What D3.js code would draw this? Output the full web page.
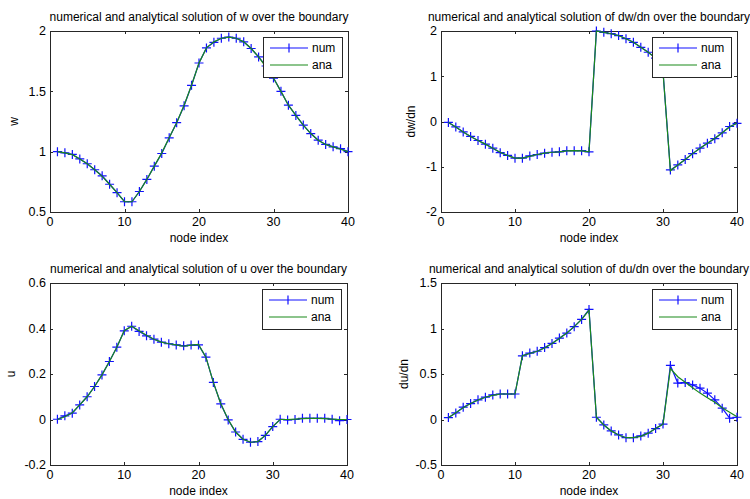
<!DOCTYPE html>
<html>
<head>
<meta charset="utf-8">
<script src="https://cdn.jsdelivr.net/npm/d3@7"></script>
<style>
body { margin: 0; background: #fff; }
text { font-family: "Liberation Sans", Arial, sans-serif; }
</style>
</head>
<body>
<svg width="750" height="499"></svg>
<script>
// node index (x values)
var nodeIndex = [1,2,3,4,5,6,7,8,9,10,11,12,13,14,15,16,17,18,19,20,
                 21,22,23,24,25,26,27,28,29,30,31,32,33,34,35,36,37,38,39,40];

// w
var wNum = [1.00,0.99,0.977,0.94,0.90,0.85,0.80,0.73,0.66,0.585,
            0.585,0.67,0.77,0.88,0.985,1.115,1.24,1.38,1.55,1.735,
            1.86,1.906,1.94,1.95,1.94,1.91,1.855,1.785,1.71,1.61,
            1.50,1.385,1.30,1.22,1.15,1.095,1.06,1.04,1.025,1.00];
var wAna = [1.00,0.99,0.975,0.94,0.90,0.85,0.795,0.73,0.66,0.585,
            0.585,0.67,0.77,0.88,0.99,1.115,1.24,1.385,1.55,1.735,
            1.86,1.91,1.94,1.95,1.94,1.91,1.855,1.785,1.70,1.61,
            1.50,1.385,1.30,1.22,1.15,1.095,1.06,1.04,1.02,1.00];

// dw/dn
var dwdnNum = [-0.02,-0.12,-0.23,-0.33,-0.42,-0.50,-0.59,-0.69,-0.75,-0.81,
               -0.81,-0.76,-0.73,-0.70,-0.68,-0.67,-0.645,-0.645,-0.645,-0.67,
               2.00,1.97,1.94,1.90,1.83,1.75,1.64,1.53,1.40,1.10,
               -1.07,-0.96,-0.84,-0.71,-0.59,-0.48,-0.38,-0.25,-0.11,-0.04];
var dwdnAna = [-0.02,-0.12,-0.23,-0.33,-0.42,-0.50,-0.59,-0.68,-0.75,-0.81,
               -0.81,-0.77,-0.73,-0.70,-0.68,-0.67,-0.65,-0.645,-0.65,-0.67,
               2.00,1.97,1.94,1.90,1.83,1.75,1.64,1.53,1.40,1.10,
               -1.09,-0.96,-0.84,-0.71,-0.59,-0.48,-0.37,-0.25,-0.12,-0.04];

// u
var uNum = [0.001,0.016,0.028,0.064,0.10,0.145,0.196,0.255,0.318,0.39,
            0.41,0.387,0.368,0.353,0.34,0.333,0.328,0.324,0.327,0.328,
            0.274,0.163,0.069,-0.002,-0.055,-0.087,-0.10,-0.097,-0.07,-0.031,
            0.001,-0.002,0.0,0.005,0.005,0.005,0.005,0.001,-0.005,0.0];
var uAna = [0.0,0.012,0.03,0.064,0.10,0.145,0.196,0.255,0.318,0.39,
            0.41,0.39,0.37,0.353,0.34,0.333,0.328,0.322,0.327,0.330,
            0.274,0.163,0.069,0.0,-0.055,-0.087,-0.10,-0.097,-0.07,-0.031,
            0.0,0.0,0.002,0.004,0.005,0.005,0.004,0.002,0.0,0.0];

// du/dn
var dudnNum = [0.021,0.072,0.135,0.175,0.216,0.245,0.27,0.28,0.28,0.28,
               0.70,0.73,0.75,0.79,0.836,0.895,0.95,1.02,1.10,1.21,
               0.025,-0.06,-0.125,-0.17,-0.20,-0.20,-0.18,-0.15,-0.10,-0.05,
               0.594,0.40,0.406,0.38,0.344,0.29,0.216,0.124,0.014,0.025];
var dudnAna = [0.02,0.075,0.13,0.175,0.215,0.245,0.265,0.28,0.28,0.28,
               0.70,0.725,0.75,0.785,0.835,0.89,0.95,1.02,1.10,1.20,
               0.025,-0.06,-0.125,-0.17,-0.20,-0.20,-0.185,-0.15,-0.10,-0.05,
               0.56,0.47,0.41,0.35,0.29,0.24,0.19,0.13,0.08,0.03];

// tick labels
var xTicks = [0,10,20,30,40];
var wTicks = [0.5,1,1.5,2];
var dwdnTicks = [-2,-1,0,1,2];
var uTicks = [-0.2,0,0.2,0.4,0.6];
var dudnTicks = [-0.5,0,0.5,1,1.5];

var svg = d3.select('svg');

var panels = [
  {left:50, top:31, right:348, bottom:212, ydom:[0.5,2], yticks:wTicks, ylab:'w', ylabX:18,
   title:'numerical and analytical solution of w over the boundary', num:wNum, ana:wAna},
  {left:441, top:31, right:737, bottom:212, ydom:[-2,2], yticks:dwdnTicks, ylab:'dw/dn', ylabX:415,
   title:'numerical and analytical solution of dw/dn over the boundary', num:dwdnNum, ana:dwdnAna},
  {left:50, top:283, right:347, bottom:465, ydom:[-0.2,0.6], yticks:uTicks, ylab:'u', ylabX:15,
   title:'numerical and analytical solution of u over the boundary', num:uNum, ana:uAna},
  {left:441, top:283, right:737, bottom:465, ydom:[-0.5,1.5], yticks:dudnTicks, ylab:'du/dn', ylabX:408,
   title:'numerical and analytical solution of du/dn over the boundary', num:dudnNum, ana:dudnAna}
];

var axisColor = '#262626';
var blue = '#1010ff';
var green = '#1a8a1a';

panels.forEach(function(p) {
  var xs = d3.scaleLinear().domain([0, 40]).range([p.left, p.right]);
  var ys = d3.scaleLinear().domain(p.ydom).range([p.bottom, p.top]);
  var g = svg.append('g');

  // box
  g.append('rect')
   .attr('x', p.left + 0.5).attr('y', p.top + 0.5)
   .attr('width', p.right - p.left).attr('height', p.bottom - p.top)
   .attr('fill', 'none').attr('stroke', axisColor).attr('stroke-width', 1);

  // inward ticks on all sides
  var tl = 3;
  xTicks.forEach(function(t) {
    var x = Math.round(xs(t)) + 0.5;
    g.append('line').attr('x1', x).attr('x2', x).attr('y1', p.bottom).attr('y2', p.bottom - tl).attr('stroke', axisColor);
    g.append('line').attr('x1', x).attr('x2', x).attr('y1', p.top).attr('y2', p.top + tl).attr('stroke', axisColor);
    g.append('text').attr('x', xs(t)).attr('y', p.bottom + 14)
     .attr('text-anchor', 'middle').attr('font-size', 12.5).attr('fill', '#000').text(t);
  });
  p.yticks.forEach(function(t) {
    var y = Math.round(ys(t)) + 0.5;
    g.append('line').attr('x1', p.left).attr('x2', p.left + tl).attr('y1', y).attr('y2', y).attr('stroke', axisColor);
    g.append('line').attr('x1', p.right).attr('x2', p.right - tl).attr('y1', y).attr('y2', y).attr('stroke', axisColor);
    g.append('text').attr('x', p.left - 4).attr('y', ys(t)).attr('dy', '0.35em')
     .attr('text-anchor', 'end').attr('font-size', 12.5).attr('fill', '#000').text(t);
  });

  // labels
  g.append('text').attr('x', (p.left + p.right) / 2).attr('y', p.top - 10)
   .attr('text-anchor', 'middle').attr('font-size', 12).text(p.title);
  g.append('text').attr('x', (p.left + p.right) / 2).attr('y', p.bottom + 30)
   .attr('text-anchor', 'middle').attr('font-size', 12).text('node index');
  g.append('text')
   .attr('transform', 'translate(' + p.ylabX + ',' + ((p.top + p.bottom) / 2) + ') rotate(-90)')
   .attr('text-anchor', 'middle').attr('font-size', 12).text(p.ylab);

  // num line + markers
  var line = d3.line().x(function(d, i) { return xs(nodeIndex[i]); }).y(function(d) { return ys(d); });
  g.append('path').datum(p.num).attr('d', line).attr('fill', 'none').attr('stroke', blue).attr('stroke-width', 1.2);
  g.selectAll('.mk').data(p.num).enter().append('path')
   .attr('d', function(d, i) {
     var x = xs(nodeIndex[i]), y = ys(d), s = 4.5;
     return 'M' + (x - s) + ',' + y + 'H' + (x + s) + 'M' + x + ',' + (y - s) + 'V' + (y + s);
   })
   .attr('stroke', blue).attr('stroke-width', 1.2).attr('fill', 'none');

  // ana line
  g.append('path').datum(p.ana).attr('d', line).attr('fill', 'none').attr('stroke', green).attr('stroke-width', 1.2);

  // legend
  var lw = 79, lh = 40;
  var lx = p.right - 6 - lw, ly = p.top + 6;
  var lg = g.append('g');
  lg.append('rect').attr('x', lx + 0.5).attr('y', ly + 0.5).attr('width', lw).attr('height', lh)
    .attr('fill', '#fff').attr('stroke', axisColor);
  var r1 = ly + 11, r2 = ly + 28;
  lg.append('line').attr('x1', lx + 7).attr('x2', lx + 45).attr('y1', r1).attr('y2', r1).attr('stroke', blue).attr('stroke-width', 1.2);
  lg.append('path').attr('d', 'M' + (lx + 26) + ',' + (r1 - 4.5) + 'V' + (r1 + 4.5)).attr('stroke', blue).attr('stroke-width', 1.2);
  lg.append('text').attr('x', lx + 49).attr('y', r1).attr('dy', '0.35em').attr('font-size', 12).text('num');
  lg.append('line').attr('x1', lx + 7).attr('x2', lx + 45).attr('y1', r2).attr('y2', r2).attr('stroke', green).attr('stroke-width', 1.2);
  lg.append('text').attr('x', lx + 49).attr('y', r2).attr('dy', '0.35em').attr('font-size', 12).text('ana');
});
</script>
</body>
</html>
